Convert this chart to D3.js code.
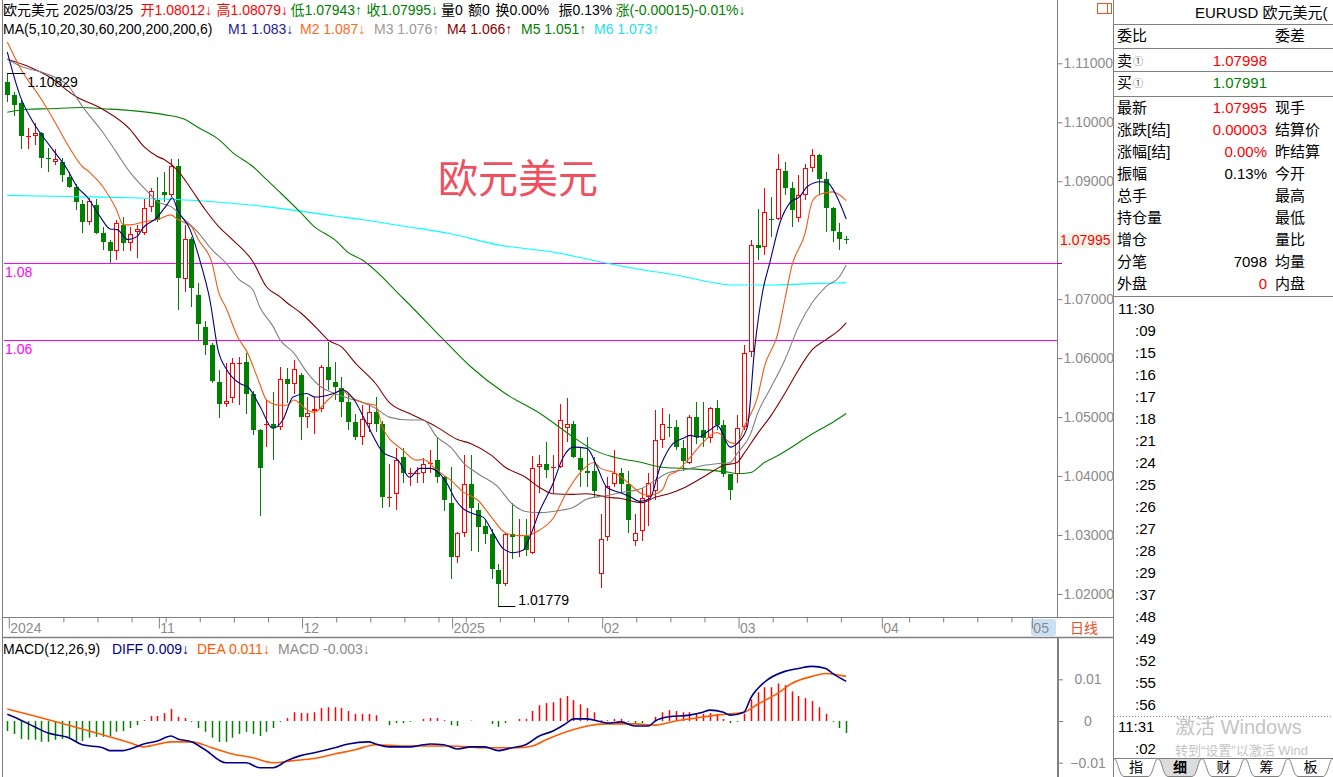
<!DOCTYPE html>
<html><head><meta charset="utf-8"><title>EURUSD</title>
<script src="https://cdn.jsdelivr.net/npm/d3@7/dist/d3.min.js"></script>
<style>
html,body{margin:0;padding:0;background:#fff;overflow:hidden}
svg text{font-family:"Liberation Sans",Arial,"Noto Sans CJK SC",sans-serif}
</style></head><body>
<svg id="chart" width="1333" height="777"></svg>
<script>
// ---------------- DATA ----------------
const open = [1.1068,1.1046,1.1032,1.0975,1.0976,1.0981,1.0939,1.0933,1.0932,1.0908,1.0891,1.0862,1.0831,1.0860,1.0813,1.0797,1.0782,1.0826,1.0796,1.0814,
1.0813,1.0857,1.0869,1.0881,1.0877,1.0925,1.0734,1.0802,1.0707,1.0653,1.0622,1.0559,1.0522,1.0532,1.0590,1.0593,1.0540,1.0478,1.0486,1.0489,
1.0483,1.0564,1.0556,1.0571,1.0500,1.0511,1.0513,1.0585,1.0559,1.0549,1.0525,1.0491,1.0466,1.0489,1.0508,1.0488,1.0364,1.0369,1.0432,1.0404,
1.0405,1.0405,1.0421,1.0428,1.0398,1.0355,1.0262,1.0304,1.0387,1.0343,1.0316,1.0301,1.0241,1.0217,1.0301,1.0299,1.0299,1.0270,1.0416,1.0420,
1.0413,1.0416,1.0481,1.0488,1.0430,1.0409,1.0408,1.0234,1.0296,1.0386,1.0405,1.0387,1.0290,1.0306,1.0364,1.0374,1.0462,1.0484,1.0483,1.0447,
1.0423,1.0501,1.0478,1.0464,1.0515,1.0486,1.0404,1.0404,1.0483,1.0610,1.0792,1.0789,1.0836,1.0836,1.0918,1.0889,1.0838,1.0877,1.0923,1.0945,
1.0904,1.0855,1.0814,1.08012];
const high = [1.10829,1.1051,1.1039,1.0991,1.0999,1.0984,1.0957,1.0954,1.0940,1.0916,1.0896,1.0869,1.0872,1.0870,1.0823,1.0800,1.0835,1.0840,1.0823,1.0826,
1.0870,1.0889,1.0908,1.0915,1.0937,1.0937,1.0826,1.0806,1.0728,1.0663,1.0625,1.0580,1.0591,1.0600,1.0602,1.0609,1.0545,1.0480,1.0529,1.0542,
1.0585,1.0583,1.0597,1.0574,1.0534,1.0534,1.0588,1.0627,1.0593,1.0568,1.0540,1.0506,1.0520,1.0523,1.0534,1.0493,1.0421,1.0447,1.0447,1.0413,
1.0415,1.0430,1.0444,1.0466,1.0400,1.0415,1.0305,1.0435,1.0435,1.0355,1.0328,1.0311,1.0251,1.0304,1.0354,1.0328,1.0328,1.0434,1.0435,1.0457,
1.0435,1.0522,1.0532,1.0493,1.0447,1.0466,1.0432,1.0335,1.0398,1.0444,1.0413,1.0409,1.0336,1.0379,1.0406,1.0512,1.0515,1.0506,1.0495,1.0461,
1.0503,1.0525,1.0525,1.0517,1.0529,1.0495,1.0404,1.0503,1.0622,1.0801,1.0853,1.0889,1.0874,1.0947,1.0932,1.0898,1.0911,1.0930,1.0955,1.0947,
1.0916,1.0857,1.0830,1.08079];
const low = [1.1034,1.1010,1.0954,1.0954,1.0961,1.0923,1.0916,1.0927,1.0899,1.0889,1.0852,1.0813,1.0826,1.0810,1.0784,1.0762,1.0767,1.0782,1.0782,1.0770,
1.0809,1.0847,1.0831,1.0864,1.0874,1.0682,1.0712,1.0687,1.0631,1.0605,1.0557,1.0498,1.0517,1.0524,1.0520,1.0506,1.0470,1.0333,1.0449,1.0427,
1.0478,1.0524,1.0540,1.0461,1.0481,1.0472,1.0508,1.0546,1.0529,1.0500,1.0478,1.0461,1.0452,1.0474,1.0474,1.0345,1.0347,1.0342,1.0389,1.0384,
1.0389,1.0389,1.0405,1.0389,1.0340,1.0226,1.0253,1.0296,1.0273,1.0272,1.0284,1.0226,1.01779,1.0214,1.0260,1.0262,1.0265,1.0268,1.0372,1.0396,
1.0372,1.0413,1.0457,1.0430,1.0381,1.0381,1.0362,1.0211,1.0290,1.0381,1.0372,1.0304,1.0282,1.0290,1.0316,1.0359,1.0447,1.0466,1.0444,1.0409,
1.0421,1.0454,1.0449,1.0456,1.0478,1.0399,1.0359,1.0389,1.0478,1.0602,1.0767,1.0775,1.0806,1.0835,1.0877,1.0823,1.0831,1.0869,1.0915,1.0877,
1.0814,1.0797,1.0784,1.07943];
const close = [1.1046,1.1030,1.0976,1.0977,1.0981,1.0940,1.0938,1.0937,1.0910,1.0891,1.0864,1.0831,1.0867,1.0813,1.0797,1.0782,1.0830,1.0796,1.0811,1.0819,
1.0855,1.0884,1.0835,1.0877,1.0925,1.0736,1.0802,1.0719,1.0658,1.0622,1.0561,1.0522,1.0527,1.0591,1.0591,1.0540,1.0478,1.0413,1.0489,1.0481,
1.0564,1.0556,1.0581,1.0500,1.0507,1.0513,1.0585,1.0563,1.0551,1.0525,1.0491,1.0467,1.0496,1.0508,1.0488,1.0364,1.0365,1.0428,1.0406,1.0405,
1.0406,1.0420,1.0423,1.0398,1.0359,1.0262,1.0304,1.0387,1.0345,1.0314,1.0301,1.0243,1.0217,1.0301,1.0296,1.0300,1.0274,1.0413,1.0420,1.0411,
1.0416,1.0495,1.0488,1.0432,1.0411,1.0406,1.0374,1.0294,1.0384,1.0405,1.0387,1.0326,1.0304,1.0362,1.0389,1.0461,1.0489,1.0483,1.0449,1.0425,
1.0500,1.0466,1.0464,1.0515,1.0486,1.0404,1.0376,1.0481,1.0609,1.0792,1.0787,1.0847,1.0835,1.0920,1.0889,1.0852,1.0877,1.0923,1.0944,1.0903,
1.0855,1.0816,1.0802,1.07995];

// moving averages: [bar index, price]
const ma5 = [[0,1.1119],[1.9,1.1044],[3.8,1.1000],[6.3,1.0959],[8.8,1.0920],[10.2,1.0891],[11.8,1.0872],[13.6,1.0840],[15.1,1.0819],[16.1,1.0818],[17.7,1.0801],[19,1.0806],[19.9,1.0821],[21.9,1.0838],[23.4,1.0860],[24.2,1.0872],[25,1.0850],[26.8,1.0818],[28.3,1.0763],[29.7,1.0699],[30.9,1.0614],[32.2,1.0580],[34.1,1.0557],[35.3,1.0551],[37.1,1.0517],[38.9,1.0481],[40.4,1.0495],[41.9,1.0534],[43.9,1.0540],[45.1,1.0534],[46.1,1.0535],[47.8,1.0540],[49.2,1.0546],[50.7,1.0532],[52.7,1.0489],[55.1,1.0440],[57.3,1.0427],[59,1.0398],[60.5,1.0413],[62,1.0413],[63.4,1.0404],[64.5,1.0387],[65.6,1.0362],[66.8,1.0345],[68.3,1.0336],[69.8,1.0330],[71.2,1.0304],[72.7,1.0277],[74.2,1.0270],[75.6,1.0274],[76.4,1.0291],[78.1,1.0342],[80,1.0387],[81.5,1.0432],[83,1.0449],[85,1.0447],[86.5,1.0415],[87.9,1.0381],[89.8,1.0372],[91.3,1.0365],[92.8,1.0357],[94.2,1.0362],[95.7,1.0415],[97.6,1.0455],[99.1,1.0464],[100.1,1.0469],[101.3,1.0466],[103,1.0478],[104.1,1.0486],[106,1.0449],[107,1.0455],[108.5,1.0483],[109.6,1.0619],[110.8,1.0716],[111.8,1.0762],[113.3,1.0830],[114.8,1.0864],[116.2,1.0874],[117.3,1.0891],[119.2,1.0899],[120.2,1.0898],[121.7,1.0872],[123,1.0836]];
const ma10 = [[0,1.1136],[2,1.1090],[5,1.1039],[7,1.1000],[9,1.0959],[11,1.0925],[12,1.0916],[14,1.0891],[16,1.0852],[17,1.0826],[18,1.0826],[20,1.0831],[22,1.0835],[24,1.0843],[25,1.0835],[27,1.0823],[28,1.0801],[30,1.0762],[31,1.0711],[32,1.0687],[34,1.0631],[35,1.0614],[37,1.0557],[38,1.0529],[40,1.0520],[41,1.0520],[42,1.0529],[44,1.0512],[45,1.0508],[47,1.0529],[49,1.0546],[50,1.0537],[52,1.0525],[54,1.0520],[55,1.0483],[58,1.0444],[60,1.0427],[61,1.0428],[63,1.0410],[65,1.0393],[67,1.0372],[69,1.0359],[71,1.0330],[73,1.0304],[75,1.0299],[76,1.0299],[78,1.0308],[80,1.0328],[82,1.0372],[84,1.0406],[86,1.0423],[87,1.0413],[89,1.0406],[91,1.0389],[93,1.0370],[94,1.0367],[96,1.0376],[97,1.0401],[98,1.0407],[100,1.0430],[102,1.0457],[104,1.0474],[106,1.0457],[107,1.0455],[108,1.0483],[110,1.0534],[111,1.0585],[113,1.0643],[114,1.0699],[115,1.0755],[117,1.0813],[118,1.0865],[119,1.0877],[121,1.0882],[122,1.0877],[123,1.0867]];
const ma20 = [[0,1.1107],[2,1.1095],[6,1.1081],[9,1.1061],[11,1.1027],[14,1.0983],[16,1.0949],[18,1.0915],[20,1.0889],[21,1.0877],[22,1.0865],[24,1.0857],[26,1.0835],[28,1.0813],[30,1.0784],[32,1.0762],[34,1.0733],[36,1.0716],[37,1.0687],[39,1.0653],[40,1.0631],[42,1.0609],[44,1.0575],[46,1.0551],[48,1.0540],[50,1.0532],[52,1.0525],[54,1.0515],[56,1.0500],[59,1.0495],[61,1.0495],[63,1.0466],[65,1.0449],[67,1.0421],[69,1.0404],[72,1.0381],[74,1.0353],[76,1.0340],[78,1.0338],[80,1.0340],[83,1.0347],[85,1.0361],[88,1.0367],[90,1.0372],[93,1.0379],[95,1.0393],[97,1.0406],[99,1.0410],[102,1.0418],[104,1.0421],[106,1.0423],[107,1.0438],[109,1.0472],[110,1.0506],[112,1.0551],[114,1.0597],[116,1.0653],[118,1.0694],[120,1.0721],[122,1.0738],[123,1.0758]];
const ma30 = [[0,1.1107],[3,1.1095],[6,1.1078],[10,1.1044],[14,1.1022],[18,1.0988],[20,1.0959],[22,1.0942],[23,1.0937],[25,1.0918],[27,1.0886],[29,1.0852],[31,1.0823],[33,1.0801],[36,1.0764],[38,1.0721],[40,1.0704],[41,1.0694],[43,1.0677],[46,1.0643],[47,1.0631],[49,1.0619],[51,1.0592],[54,1.0557],[56,1.0525],[59,1.0506],[61,1.0495],[63,1.0483],[66,1.0462],[68,1.0455],[71,1.0435],[73,1.0415],[76,1.0398],[78,1.0381],[80,1.0370],[83,1.0369],[85,1.0370],[88,1.0364],[90,1.0362],[93,1.0355],[95,1.0364],[97,1.0370],[99,1.0379],[102,1.0398],[105,1.0418],[107,1.0423],[108,1.0438],[110,1.0472],[112,1.0503],[114,1.0540],[116,1.0580],[118,1.0614],[120,1.0631],[122,1.0648],[123,1.0660]];
const ma60 = [[0,1.1017],[3,1.1022],[6,1.1023],[11,1.1025],[14,1.1023],[18,1.1020],[23,1.1013],[26,1.1005],[28,1.0991],[31,1.0971],[33,1.0949],[36,1.0925],[38,1.0903],[40,1.0881],[43,1.0847],[45,1.0823],[48,1.0801],[50,1.0779],[52,1.0767],[58,1.0702],[64,1.0631],[68,1.0585],[73,1.0540],[78,1.0507],[83,1.0466],[86,1.0444],[89,1.0432],[93,1.0423],[96,1.0415],[99,1.0413],[103,1.0410],[106,1.0406],[107,1.0404],[109,1.0406],[111,1.0423],[113,1.0435],[115,1.0449],[117,1.0464],[119,1.0478],[121,1.0491],[123,1.0506]];
const ma200 = [[0,1.0876],[9,1.0874],[18,1.0872],[28,1.0867],[38,1.0857],[48,1.0841],[52,1.0835],[58,1.0824],[65,1.0811],[72,1.0792],[80,1.0780],[87,1.0763],[93,1.0750],[98,1.0741],[103,1.0729],[106,1.0724],[112,1.0724],[117,1.0726],[123,1.0728]];

// MACD(12,26,9)
const diff = [[0,0.0016],[2,0.0002],[4,-0.0014],[6,-0.0029],[9,-0.0040],[11,-0.0057],[14,-0.0064],[15,-0.0071],[17,-0.0071],[18,-0.0067],[20,-0.0055],[22,-0.0048],[24,-0.0036],[25,-0.0043],[27,-0.0050],[29,-0.0069],[32,-0.0100],[35,-0.0100],[37,-0.0112],[39,-0.0112],[41,-0.0095],[43,-0.0083],[45,-0.0076],[48,-0.0064],[50,-0.0055],[53,-0.0050],[54,-0.0055],[56,-0.0062],[59,-0.0062],[61,-0.0057],[62,-0.0055],[64,-0.0057],[66,-0.0067],[68,-0.0062],[70,-0.0062],[72,-0.0071],[74,-0.0064],[76,-0.0057],[78,-0.0036],[80,-0.0024],[82,-0.0005],[83,0.0005],[85,0.0005],[87,-0.0002],[88,-0.0005],[90,-0.0002],[92,-0.0012],[94,-0.0012],[95,0.0000],[97,0.0010],[100,0.0014],[102,0.0021],[103,0.0026],[105,0.0021],[106,0.0014],[108,0.0021],[109,0.0055],[111,0.0093],[114,0.0119],[116,0.0126],[118,0.0131],[120,0.0126],[121,0.0114],[123,0.0095]];
const dea = [[0,0.0029],[4,0.0012],[9,-0.0010],[14,-0.0033],[18,-0.0052],[20,-0.0062],[24,-0.0050],[27,-0.0050],[30,-0.0064],[33,-0.0079],[36,-0.0088],[39,-0.0100],[42,-0.0095],[45,-0.0090],[48,-0.0079],[51,-0.0069],[54,-0.0057],[58,-0.0060],[62,-0.0060],[65,-0.0060],[70,-0.0064],[75,-0.0064],[77,-0.0060],[79,-0.0045],[82,-0.0026],[85,-0.0012],[88,-0.0007],[92,-0.0007],[95,-0.0010],[98,0.0000],[101,0.0007],[104,0.0014],[106,0.0017],[108,0.0021],[110,0.0040],[113,0.0067],[115,0.0090],[118,0.0107],[120,0.0114],[123,0.0107]];
const macdHist = [-0.0024,-0.0031,-0.0043,-0.0045,-0.0045,-0.0050,-0.0050,-0.0045,-0.0043,-0.0040,-0.0048,-0.0048,-0.0040,-0.0038,-0.0038,-0.0036,-0.0026,-0.0024,-0.0017,-0.0010,
0.0002,0.0012,0.0012,0.0019,0.0029,0.0010,0.0007,-0.0002,-0.0017,-0.0026,-0.0040,-0.0050,-0.0050,-0.0040,-0.0031,-0.0026,-0.0031,-0.0036,-0.0026,-0.0017,
-0.0002,0.0007,0.0021,0.0019,0.0019,0.0021,0.0031,0.0033,0.0033,0.0031,0.0024,0.0017,0.0017,0.0017,0.0014,0,-0.0010,-0.0005,-0.0005,-0.0002,
0,0.0005,0.0007,0.0007,0.0002,-0.0010,-0.0012,0,0.0001,0,0,-0.0007,-0.0014,-0.0005,0,0.0005,0.0005,0.0024,0.0038,0.0043,
0.0045,0.0055,0.0060,0.0050,0.0040,0.0031,0.0021,0.0002,0.0002,0.0005,0.0005,-0.0002,-0.0007,-0.0005,0,0.0010,0.0021,0.0026,0.0024,0.0021,
0.0021,0.0019,0.0017,0.0019,0.0017,0.0005,-0.0005,-0.0002,0.0017,0.0052,0.0069,0.0081,0.0081,0.0090,0.0086,0.0071,0.0060,0.0055,0.0048,0.0033,
0.0017,-0.0002,-0.0017,-0.0029];

// axis categories
const monthLabels = ["2024","11","12","2025","02","03","04","05"];
const monthIdx = [0,22,43,65,87,107,128,150];
const weekIdx = [8,13,18,23,28,33,38,48,53,58,63,67,72,77,82,92,97,102,112,117,122,132,137,142,147];
const priceTicks = [1.11,1.10,1.09,1.07,1.06,1.05,1.04,1.03,1.02];
const macdTicks = [0.01,0,-0.01];
const refLines = [1.0762,1.0631];
const refLabels = ["1.08","1.06"];
const lastPrice = 1.07995;
const hiMark = [0,1.10829], loMark = [72,1.01779];

// ---------------- DRAW ----------------
const svg = d3.select("#chart");
svg.append("rect").attr("width",1333).attr("height",777).attr("fill","#fff");
const x = d3.scaleLinear().domain([0,123]).range([7.3,846.2]);
const y = d3.scaleLinear().domain([1.02,1.11]).range([594,63.3]);
const ym = d3.scaleLinear().domain([-0.01,0.01]).range([762.7,679.3]);
const RED="#FF0000", GRN="#008000", GRAY="#808080";

const defs = svg.append("defs");
defs.append("clipPath").attr("id","cp").append("rect").attr("x",4).attr("y",36).attr("width",1053).attr("height",581);
defs.append("clipPath").attr("id","cm").append("rect").attr("x",4).attr("y",660).attr("width",1053).attr("height",117);

function T(parent,s,xx,yy,o){o=o||{};return parent.append("text").attr("x",xx).attr("y",yy).attr("dominant-baseline","central")
  .attr("font-size",o.size||14).attr("fill",o.fill||"#000").attr("text-anchor",o.anchor||"start").attr("font-weight",o.weight||"normal").text(s);}
function L(x1,y1,x2,y2,c,w,dash){const l=svg.append("line").attr("x1",x1).attr("y1",y1).attr("x2",x2).attr("y2",y2).attr("stroke",c||GRAY).attr("stroke-width",w||1);if(dash)l.attr("stroke-dasharray",dash);return l;}

// frame
L(2.5,0,2.5,777);
L(1057.5,0,1057.5,617);
L(1058,637,1058,777,GRAY,2);
L(1113.5,0,1113.5,777);
L(3,617.5,1113,617.5);
L(3,637.5,1113,637.5,GRAY,1.5);

// big watermark title
T(svg,"欧元美元",438,179,{size:40,fill:"#EF4F5F"});

// price panel
const gP = svg.append("g").attr("clip-path","url(#cp)");
refLines.forEach((v,k)=>{
  gP.append("line").attr("x1",3).attr("x2",1057).attr("y1",Math.round(y(v))+0.5).attr("y2",Math.round(y(v))+0.5).attr("stroke","#FF00FF").attr("stroke-width",1);
  T(gP,refLabels[k],5,y(v)+9,{size:14,fill:"#FF00FF"});
});

const candles = gP.selectAll("g.candle").data(d3.range(close.length)).join("g").attr("class","candle");
candles.each(function(i){
  const g=d3.select(this);
  const cx=Math.round(x(i))+0.5;
  const up=close[i]>open[i];
  const col=up?RED:GRN;
  const yo=Math.round(y(open[i])), yc=Math.round(y(close[i])), yh=Math.round(y(high[i])), yl=Math.round(y(low[i]));
  const top=Math.min(yo,yc), bot=Math.max(yo,yc);
  if(up){
    g.append("line").attr("x1",cx).attr("x2",cx).attr("y1",yh).attr("y2",top).attr("stroke",col);
    g.append("line").attr("x1",cx).attr("x2",cx).attr("y1",bot).attr("y2",yl).attr("stroke",col);
    if(bot-top<2){
      g.append("line").attr("x1",cx-2.5).attr("x2",cx+2.5).attr("y1",top+0.5).attr("y2",top+0.5).attr("stroke",col);
    } else {
      g.append("rect").attr("x",cx-2).attr("y",top+0.5).attr("width",4).attr("height",bot-top-1).attr("fill","#fff").attr("stroke",col);
    }
  } else {
    g.append("line").attr("x1",cx).attr("x2",cx).attr("y1",yh).attr("y2",yl).attr("stroke",col);
    g.append("rect").attr("x",cx-2.5).attr("y",top).attr("width",5).attr("height",Math.max(1,bot-top)).attr("fill",col);
  }
});

const mline = d3.line().x(d=>x(d[0])).y(d=>y(d[1])).curve(d3.curveMonotoneX);
[[ma200,"#00FFFF"],[ma60,"#008000"],[ma30,"#800000"],[ma20,"#808080"],[ma10,"#F05A14"],[ma5,"#000080"]].forEach(([d,c])=>{
  gP.append("path").datum(d).attr("d",mline).attr("fill","none").attr("stroke",c).attr("stroke-width",1.1);
});

// high / low markers
gP.append("line").attr("x1",x(hiMark[0])).attr("x2",x(hiMark[0])+18).attr("y1",Math.round(y(hiMark[1]))+0.5).attr("y2",Math.round(y(hiMark[1]))+0.5).attr("stroke","#000");
T(gP,"1.10829",x(hiMark[0])+20,y(hiMark[1])+9,{size:14});
gP.append("line").attr("x1",x(loMark[0])).attr("x2",x(loMark[0])+17).attr("y1",Math.round(y(loMark[1]))-0.5).attr("y2",Math.round(y(loMark[1]))-0.5).attr("stroke","#000");
T(svg,"1.01779",x(loMark[0])+20,y(loMark[1])-7,{size:14});

// price axis
const ya = svg.append("g").attr("transform","translate(1057.5,0)")
  .call(d3.axisRight(y).tickValues(priceTicks).tickSize(5).tickPadding(1).tickFormat(d3.format(".5f")));
ya.select(".domain").remove();
ya.selectAll("line").attr("stroke",GRAY);
ya.selectAll("text").attr("fill","#8C8C8C").attr("font-size",14).attr("font-family",null);
svg.append("rect").attr("x",1059).attr("y",y(lastPrice)-7.5).attr("width",54).attr("height",15).attr("fill","#EEF4E8");
T(svg,"1.07995",1060,y(lastPrice),{size:14,fill:RED});
svg.append("line").attr("x1",1057).attr("x2",1062).attr("y1",Math.round(y(refLines[0]))+0.5).attr("y2",Math.round(y(refLines[0]))+0.5).attr("stroke","#B000B0");
// small icon top right of axis
svg.append("rect").attr("x",1097.5).attr("y",3.5).attr("width",14).attr("height",10).attr("fill","none").attr("stroke","#E05A1E");
L(1107.5,3.5,1107.5,13.5,"#E05A1E");

// time axis
svg.append("rect").attr("x",1031).attr("y",619).attr("width",25).attr("height",17).attr("rx",3).attr("fill","#CCE0F4");
const xa = svg.append("g").attr("transform","translate(1.5,617.5)")
  .call(d3.axisBottom(x).tickValues(monthIdx).tickSize(11).tickFormat((d,i)=>monthLabels[i]));
xa.select(".domain").remove();
xa.selectAll("line").attr("stroke",GRAY);
xa.selectAll("text").attr("text-anchor","start").attr("x",1).attr("y",10).attr("dy",null).attr("dominant-baseline","central")
  .attr("fill","#8C8C8C").attr("font-size",14).attr("font-family",null);
const xw = svg.append("g").attr("transform","translate(1.5,617.5)")
  .call(d3.axisBottom(x).tickValues(weekIdx).tickSize(5).tickFormat(""));
xw.select(".domain").remove();
xw.selectAll("line").attr("stroke",GRAY);
T(svg,"日线",1070,628,{size:14,fill:"#E8501E"});

// headers
function seg(list,yy){list.forEach(s=>T(svg,s[0],s[1],yy,{size:14,fill:s[2]}));}
seg([["欧元美元",3,"#000"],["2025/03/25",63,"#000"],["开1.08012↓",140.5,RED],["高1.08079↓",216.5,RED],["低1.07943↑",290.5,GRN],
     ["收1.07995↓",366.5,GRN],["量0",441,"#000"],["额0",468,"#000"],["换0.00%",495.5,"#000"],["振0.13%",558.5,"#000"],["涨(-0.00015)-0.01%↓",615.5,GRN]],10);
seg([["MA(5,10,20,30,60,200,200,200,6)",3,"#000"],["M1 1.083↓",228,"#1C1C96"],["M2 1.087↓",300,"#FF6A1A"],["M3 1.076↑",374,"#9A9A9A"],
     ["M4 1.066↑",447,"#8B0000"],["M5 1.051↑",521,"#008000"],["M6 1.073↑",594,"#22E0F0"]],28.5);
seg([["MACD(12,26,9)",3,"#000"],["DIFF 0.009↓",112,"#00008B"],["DEA 0.011↓",197,"#FF5A00"],["MACD -0.003↓",278,"#8C8C8C"]],649);

// MACD panel
const gM = svg.append("g").attr("clip-path","url(#cm)");
gM.selectAll("line.h").data(d3.range(macdHist.length)).join("line").attr("class","h")
  .attr("x1",i=>Math.round(x(i))+0.5).attr("x2",i=>Math.round(x(i))+0.5)
  .attr("y1",ym(0)).attr("y2",i=>ym(macdHist[i]))
  .attr("stroke",i=>macdHist[i]>=0?RED:GRN).attr("stroke-width",1.5);
const mm = d3.line().x(d=>x(d[0])).y(d=>ym(d[1])).curve(d3.curveMonotoneX);
gM.append("path").datum(dea).attr("d",mm).attr("fill","none").attr("stroke","#FF5A00").attr("stroke-width",1.6);
gM.append("path").datum(diff).attr("d",mm).attr("fill","none").attr("stroke","#00008B").attr("stroke-width",1.6);
const ma = svg.append("g").attr("transform","translate(1058,0)")
  .call(d3.axisRight(ym).tickValues(macdTicks).tickSize(5).tickFormat(d=>d===0?"0":d3.format(".2f")(d)));
ma.select(".domain").remove();
ma.selectAll("line").attr("stroke",GRAY);
ma.selectAll("text").attr("text-anchor","middle").attr("x",30).attr("fill","#8C8C8C").attr("font-size",14).attr("font-family",null);

// right info panel
const RP = svg.append("g");
T(RP,"EURUSD 欧元美元(",1195,12,{size:15});
[24.5,48.5,71.5,96.5,296.5].forEach(v=>L(1114,v,1333,v));
T(RP,"委比",1117,35,{size:15}); T(RP,"委差",1275,35,{size:15});
T(RP,"卖",1117,60,{size:15}); T(RP,"①",1133,61,{size:10,fill:"#444"}); T(RP,"1.07998",1267,60,{size:15,fill:RED,anchor:"end"});
T(RP,"买",1117,82,{size:15}); T(RP,"①",1133,83,{size:10,fill:"#444"}); T(RP,"1.07991",1267,82,{size:15,fill:GRN,anchor:"end"});
const infoL=["最新","涨跌[结]","涨幅[结]","振幅","总手","持仓量","增仓","分笔","外盘"];
const infoV=["1.07995","0.00003","0.00%","0.13%","","","","7098","0"];
const infoC=[RED,RED,RED,"#000","#000","#000","#000","#000",RED];
const infoR=["现手","结算价","昨结算","今开","最高","最低","量比","均量","内盘"];
infoL.forEach((s,k)=>{const yy=107+22*k;T(RP,s,1117,yy,{size:15});T(RP,infoV[k],1267,yy,{size:15,fill:infoC[k],anchor:"end"});T(RP,infoR[k],1275,yy,{size:15});});
const ticksT=["11:30",":09",":15",":16",":17",":18",":21",":24",":25",":26",":27",":28",":29",":37",":48",":49",":52",":55",":56"];
ticksT.forEach((s,k)=>T(RP,s,k===0?1118:1135,308+22*k,{size:15}));
L(1114,716.5,1333,716.5,"#909090",1,"1,2");
T(RP,"11:31",1118,726,{size:15}); T(RP,":02",1135,748,{size:15});
T(RP,"激活 Windows",1175,727,{size:20,fill:"#C4C4C4"});
T(RP,"转到“设置”以激活 Wind",1175,750,{size:13,fill:"#C4C4C4"});
// tabs
L(1114,758.5,1333,758.5);
const tabs=["指","细","财","筹","板"], tabX=[1114,1158,1202,1245,1288,1333];
tabs.forEach((s,k)=>{const a=tabX[k],b=tabX[k+1];
  RP.append("path").attr("d",`M${a},758.5 C${a+4},759 ${a+5},776.5 ${a+10},776.5 L${b-10},776.5 C${b-5},776.5 ${b-4},759 ${b},758.5`)
   .attr("fill",k===1?"#DCDCDC":"#fff").attr("stroke",GRAY);
  T(RP,s,(a+b)/2,767,{size:14,anchor:"middle",weight:k===1?"bold":"normal"});});
</script></body></html>
